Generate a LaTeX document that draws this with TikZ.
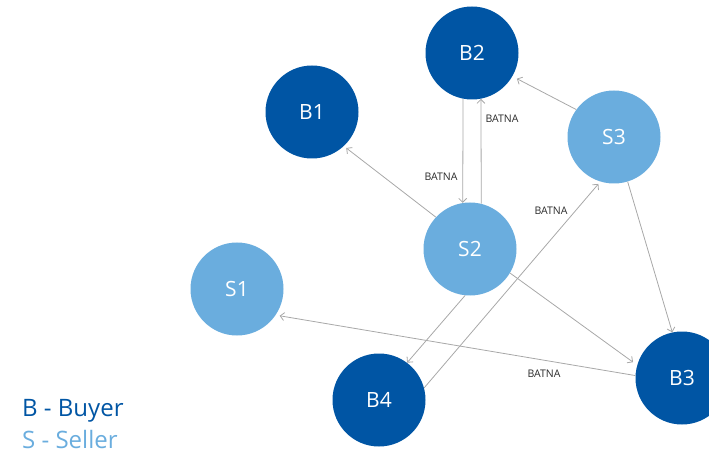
\documentclass[tikz,border=0pt]{standalone}
\usepackage{fontspec}
\setmainfont{Open Sans}
\usetikzlibrary{arrows.meta}
\definecolor{buyer}{HTML}{0055A4}
\definecolor{seller}{HTML}{6AADDE}
\definecolor{edgegray}{HTML}{A8A8A8}
\definecolor{labgray}{HTML}{2A2A2A}
\tikzset{
  buyernode/.style={circle,fill=buyer,draw=none,minimum size=93pt,inner sep=0pt,text=white,font=\fontsize{21}{25}\selectfont},
  sellernode/.style={circle,fill=seller,draw=none,minimum size=93pt,inner sep=0pt,text=white,font=\fontsize{21}{25}\selectfont},
  link/.style={draw=edgegray,line width=0.8pt,-{Straight Barb[length=4pt,width=8pt]}},
  batna/.style={text=labgray,font=\fontsize{10.5}{12}\selectfont,inner sep=0pt},
  legend/.style={anchor=base west,inner sep=0pt,font=\fontsize{24}{28}\selectfont}
}
\begin{document}
\begin{tikzpicture}[x=1pt,y=-1pt]
\useasboundingbox (0,0) rectangle (709,454);
\clip (0,0) rectangle (709,454);
\node[buyernode] (B2) at (472,53) {B2};
\node[buyernode] (B1) at (312,112) {B1};
\node[sellernode] (S3) at (614,137) {S3};
\node[sellernode] (S2) at (470,249) {S2};
\node[sellernode] (S1) at (237,289) {S1};
\node[buyernode] (B4) at (379,400) {B4};
\node[buyernode] (B3) at (682,378) {B3};

\draw[link,shorten >=3pt] (S2.137) -- (B1.313);
\draw[link] (B2.259) -- (S2.99);
\draw[link] (S2.76) -- (B2.281);
\draw[link,shorten >=5pt] (S3.144) -- (B2.330);
\draw[link] (S3.287) -- (B3.102);
\draw[link,shorten >=5pt] (S2.329) -- (B3.164);
\draw[link,shorten >=4pt] (B3.177) -- (S1.326);
\draw[link] (S2.264) -- (B4.53);
\draw[link,shorten >=3pt] (B4.15) -- (S3.253);

\node[batna] (L1) at (502,119) {BATNA};
\node[batna] (L2) at (441,177) {BATNA};
\node[batna] (L3) at (551,211) {BATNA};
\node[batna] (L4) at (544,374) {BATNA};

\node[legend,text=buyer] (LB) at (22,416) {B - Buyer};
\node[legend,text=seller] (LS) at (22,448) {S - Seller};
\end{tikzpicture}
\end{document}
